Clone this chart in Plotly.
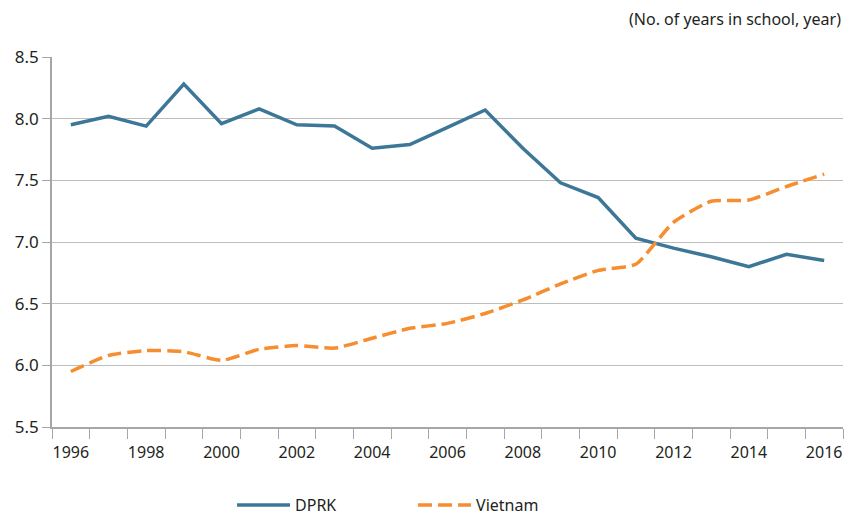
import plotly.graph_objects as go

years = list(range(1996, 2017))
dprk = [7.95, 8.02, 7.94, 8.28, 7.96, 8.08, 7.95, 7.94, 7.76, 7.79, 7.93,
        8.07, 7.76, 7.48, 7.36, 7.03, 6.95, 6.88, 6.80, 6.90, 6.85]
vietnam = [5.95, 6.08, 6.12, 6.11, 6.04, 6.13, 6.16, 6.14, 6.22, 6.30, 6.34,
           6.42, 6.53, 6.66, 6.77, 6.82, 7.16, 7.33, 7.34, 7.45, 7.55]
x_tick_labels = [str(y) for y in range(1996, 2017, 2)]
y_ticks = [5.5, 6.0, 6.5, 7.0, 7.5, 8.0, 8.5]

FONT = "Noto Sans"
TXT = "#231F20"

fig = go.Figure()
fig.add_trace(go.Scatter(x=years, y=dprk, name="DPRK", mode="lines",
                         line=dict(color="#3C7797", width=3.5)))
fig.add_trace(go.Scatter(x=years, y=vietnam, name="Vietnam", mode="lines",
                         line=dict(color="#F68D2E", width=3.5, dash="14px,6px",
                                   shape="spline", smoothing=0.5)))

fig.update_layout(
    width=847, height=516,
    margin=dict(l=52, r=4, t=57, b=89, autoexpand=False),
    paper_bgcolor="white", plot_bgcolor="white",
    font=dict(family=FONT, size=16, color=TXT),
    showlegend=True,
    legend=dict(orientation="h", x=0.2276, xanchor="left", y=-0.165, yanchor="top",
                font=dict(size=16, color=TXT), itemwidth=53, entrywidth=113,
                entrywidthmode="pixels", traceorder="normal"),
    annotations=[dict(text="(No. of years in school, year)", xref="paper", yref="paper",
                      x=1.0, y=1.0, xanchor="right", yanchor="bottom", yshift=25,
                      showarrow=False, font=dict(size=16, color=TXT, family=FONT))],
)
fig.update_xaxes(
    range=[1995.5, 2016.5], automargin=False,
    tickvals=[int(t) for t in x_tick_labels], ticktext=x_tick_labels,
    ticks="outside", ticklen=10, tickcolor="rgba(0,0,0,0)",
    showline=True, linecolor="#A6A6A6", linewidth=1.5,
    showgrid=False, zeroline=False,
    minor=dict(tick0=1995.5, dtick=1, ticks="outside", ticklen=10,
               tickcolor="#A6A6A6", tickwidth=1, showgrid=False),
    tickfont=dict(size=16, color=TXT),
)
fig.update_yaxes(
    range=[5.5, 8.5], automargin=False,
    tickvals=y_ticks, ticktext=[f"{v:.1f}" for v in y_ticks],
    ticks="outside", ticklen=8, tickcolor="#A6A6A6",
    showline=True, linecolor="#A6A6A6", linewidth=1.5,
    showgrid=True, gridcolor="#BDBDBD", gridwidth=1.2, zeroline=False,
    tickfont=dict(size=17, color=TXT),
)

fig.write_html("out.html", config={"displayModeBar": False},
               post_script="document.body.style.margin='0';document.body.style.overflow='hidden';")
